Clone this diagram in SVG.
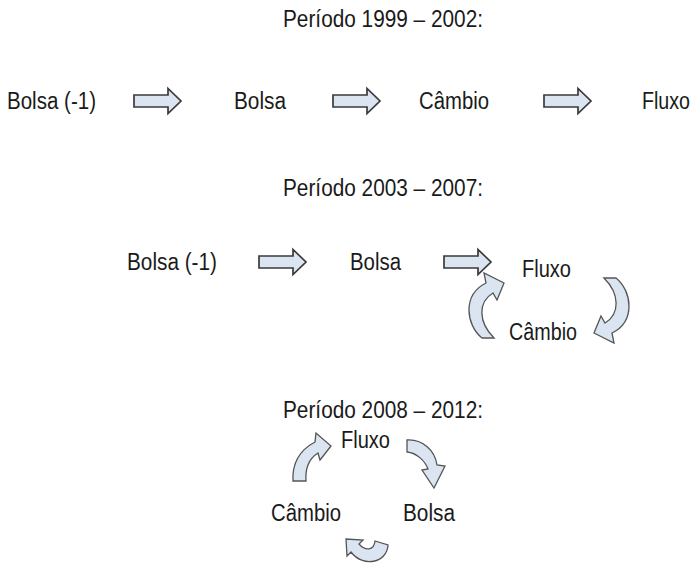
<svg xmlns="http://www.w3.org/2000/svg" width="698" height="564" viewBox="0 0 698 564">
<defs>
<style>
text{font-family:"Liberation Sans",Arial,sans-serif;font-size:23px;fill:#1a1a1a}
.sa{fill:#dbe5f1;stroke:#3a3a3a;stroke-width:1.7;stroke-linejoin:miter}
.ca{fill:#dbe5f1;stroke:#555;stroke-width:1.3;stroke-linejoin:miter}
</style>
<polygon id="rarrow" points="0,-6 34,-6 34,-12.5 47,0 34,12.5 34,6 0,6"/>
</defs>
<rect width="698" height="564" fill="#fff"/>
<g id="titles">
<text x="283" y="27" textLength="200" lengthAdjust="spacingAndGlyphs">Período 1999 – 2002:</text>
<text x="283" y="196" textLength="200" lengthAdjust="spacingAndGlyphs">Período 2003 – 2007:</text>
<text x="283" y="418" textLength="200" lengthAdjust="spacingAndGlyphs">Período 2008 – 2012:</text>
</g>
<g id="p1-bolsa1"><text x="7" y="109" textLength="89" lengthAdjust="spacingAndGlyphs">Bolsa (-1)</text></g>
<g id="p1-bolsa"><text x="234" y="109" textLength="52" lengthAdjust="spacingAndGlyphs">Bolsa</text></g>
<g id="p1-cambio"><text x="419" y="109" textLength="70" lengthAdjust="spacingAndGlyphs">Câmbio</text></g>
<g id="p1-fluxo"><text x="642" y="109" textLength="48" lengthAdjust="spacingAndGlyphs">Fluxo</text></g>
<g id="p2-bolsa1"><text x="127" y="270" textLength="90" lengthAdjust="spacingAndGlyphs">Bolsa (-1)</text></g>
<g id="p2-bolsa"><text x="350" y="270" textLength="51" lengthAdjust="spacingAndGlyphs">Bolsa</text></g>
<g id="p2-fluxo"><text x="522" y="277" textLength="49" lengthAdjust="spacingAndGlyphs">Fluxo</text></g>
<g id="p2-cambio"><text x="509" y="340" textLength="68" lengthAdjust="spacingAndGlyphs">Câmbio</text></g>
<g id="p3-fluxo"><text x="341" y="448" textLength="49" lengthAdjust="spacingAndGlyphs">Fluxo</text></g>
<g id="p3-cambio"><text x="271" y="521" textLength="70" lengthAdjust="spacingAndGlyphs">Câmbio</text></g>
<g id="p3-bolsa"><text x="403" y="521" textLength="52" lengthAdjust="spacingAndGlyphs">Bolsa</text></g>
<g id="connectors">
<use href="#rarrow" class="sa" x="134" y="101"/>
<use href="#rarrow" class="sa" x="333" y="101"/>
<use href="#rarrow" class="sa" x="544" y="101"/>
<use href="#rarrow" class="sa" x="259" y="262"/>
<use href="#rarrow" class="sa" x="444" y="262"/>
<path class="ca" d="M482 338 C466 325 462 295 486 283 L484 273 L504 283 L497 300 L493 293 C478 302 478 322 494 338 Z"/>
<path class="ca" d="M482 338 C466 325 462 295 486 283 L484 273 L504 283 L497 300 L493 293 C478 302 478 322 494 338 Z" transform="rotate(180 549 308)"/>
<path class="ca" d="M293 481 C292 463 300 450 315 442 L316 433 L331 446 L320 460 L318 453 C310 458 305 467 306 481 Z"/>
<path class="ca" d="M407 440 C422 439 435 450 437 465 L445 466 L434 488 L422 470 L428 469 C425 461 417 453 407 452 Z"/>
<path class="ca" d="M388 545 C387 563 363 568 351 552 L347 556 L346 539 L363 540 L359 544 C365 551 374 551 375 541 Z"/>
</g>
</svg>
